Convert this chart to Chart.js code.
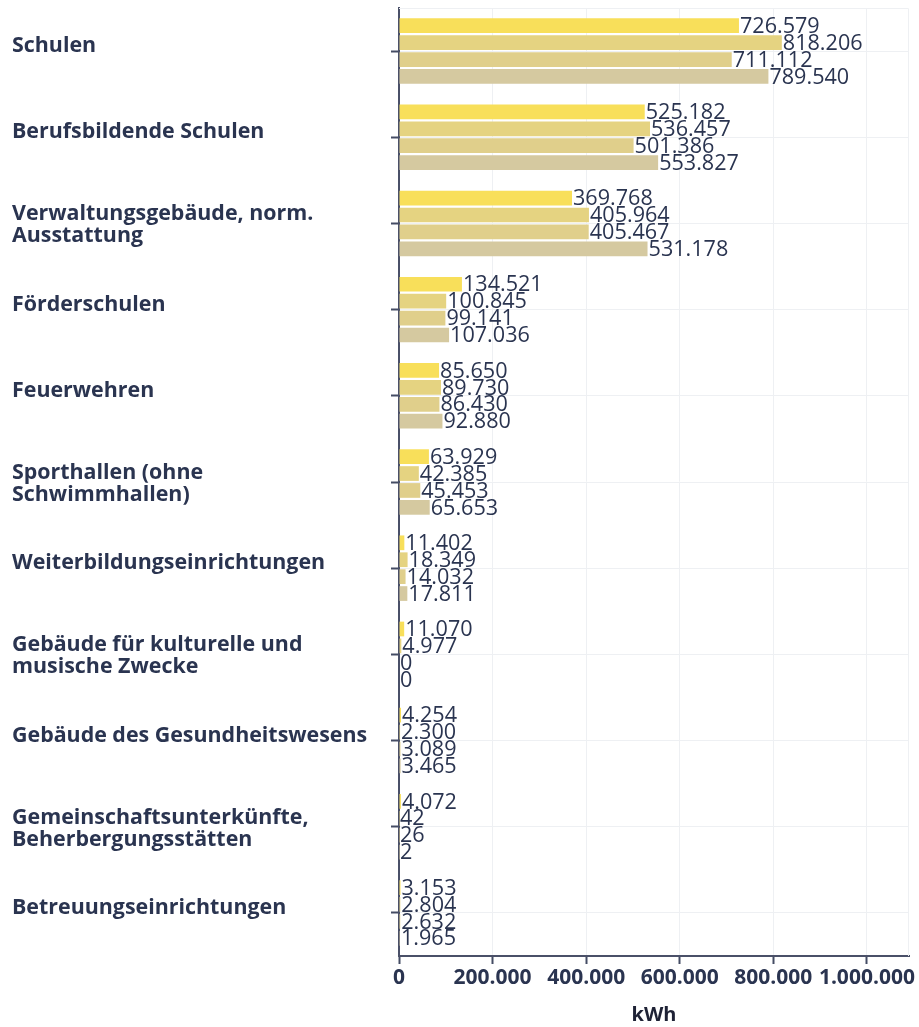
<!DOCTYPE html>
<html>
<head>
<meta charset="utf-8">
<script src="https://cdn.jsdelivr.net/npm/chart.js@4"></script>
<style>
  html, body { margin: 0; padding: 0; background: #fff; }
  #wrap { width: 919px; height: 1027px; }
</style>
</head>
<body>
<div id="wrap"><canvas id="chart"></canvas></div>
<script>
// Energieverbrauch nach Gebäudeart (kWh)

const categories = [
    'Schulen',
    'Berufsbildende Schulen',
    ['Verwaltungsgebäude, norm.', 'Ausstattung'],
    'Förderschulen',
    'Feuerwehren',
    ['Sporthallen (ohne', 'Schwimmhallen)'],
    'Weiterbildungseinrichtungen',
    ['Gebäude für kulturelle und', 'musische Zwecke'],
    'Gebäude des Gesundheitswesens',
    ['Gemeinschaftsunterkünfte,', 'Beherbergungsstätten'],
    'Betreuungseinrichtungen'
];

const series1 = [726579, 525182, 369768, 134521, 85650, 63929, 11402, 11070, 4254, 4072, 3153];
const series2 = [818206, 536457, 405964, 100845, 89730, 42385, 18349, 4977, 2300, 42, 2804];
const series3 = [711112, 501386, 405467, 99141, 86430, 45453, 14032, 0, 3089, 26, 2632];
const series4 = [789540, 553827, 531178, 107036, 92880, 65653, 17811, 0, 3465, 2, 1965];

const seriesNames = ['Serie 1', 'Serie 2', 'Serie 3', 'Serie 4'];
const xTicks = [0, 200000, 400000, 600000, 800000, 1000000];

const TEXT_COLOR = '#2a3450';
const FONT = '"Open Sans", "Noto Sans", sans-serif';

function fmt(v) {
    return String(Math.round(v)).replace(/\B(?=(\d{3})+(?!\d))/g, '.');
}

// faint frame line on top and right of the plot area
const frame = {
    id: 'frame',
    beforeDatasetsDraw(chart) {
        const { ctx, chartArea } = chart;
        ctx.save();
        ctx.strokeStyle = '#eef0f3';
        ctx.lineWidth = 1;
        ctx.beginPath();
        ctx.moveTo(chartArea.left, chartArea.top + 0.5);
        ctx.lineTo(chartArea.right - 0.5, chartArea.top + 0.5);
        ctx.lineTo(chartArea.right - 0.5, chartArea.bottom);
        ctx.stroke();
        ctx.restore();
    }
};

// value labels at the end of each bar
const barLabels = {
    id: 'barLabels',
    afterDatasetsDraw(chart) {
        const ctx = chart.ctx;
        ctx.save();
        ctx.font = '21.6px ' + FONT;
        ctx.fillStyle = TEXT_COLOR;
        ctx.textAlign = 'left';
        ctx.textBaseline = 'middle';
        chart.data.datasets.forEach((ds, i) => {
            const meta = chart.getDatasetMeta(i);
            meta.data.forEach((bar, j) => {
                ctx.fillText(fmt(ds.data[j]), bar.x + 1, bar.y + 1);
            });
        });
        ctx.restore();
    }
};

// category labels, left aligned (single lines sit on the tick, two lines are centred)
const categoryLabels = {
    id: 'categoryLabels',
    afterDraw(chart) {
        const ctx = chart.ctx;
        const yScale = chart.scales.y;
        ctx.save();
        ctx.font = 'bold 21.4px ' + FONT;
        ctx.fillStyle = TEXT_COLOR;
        ctx.textAlign = 'left';
        ctx.textBaseline = 'alphabetic';
        categories.forEach((label, i) => {
            const y = yScale.getPixelForTick(i);
            if (Array.isArray(label)) {
                ctx.fillText(label[0], 12, y - 3);
                ctx.fillText(label[1], 12, y + 19);
            } else {
                ctx.fillText(label, 12, y + 1);
            }
        });
        ctx.restore();
    }
};

const colors = ['#f8df5a', '#e5d381', '#e0cf8b', '#d5c9a0'];
const allSeries = [series1, series2, series3, series4];

new Chart(document.getElementById('chart'), {
    type: 'bar',
    data: {
        labels: categories,
        datasets: allSeries.map((d, i) => ({
            label: seriesNames[i],
            data: d,
            backgroundColor: colors[i],
            borderWidth: 0,
            categoryPercentage: 0.785,
            barPercentage: 0.87
        }))
    },
    options: {
        indexAxis: 'y',
        responsive: true,
        maintainAspectRatio: false,
        animation: false,
        layout: { padding: { left: 12, right: 10, top: 8, bottom: 0 } },
        plugins: {
            legend: { display: false },
            tooltip: { enabled: false }
        },
        scales: {
            y: {
                afterFit: function(scale) { scale.width = 387; },
                grid: {
                    offset: false,
                    color: '#eef0f3',
                    tickColor: '#444c64',
                    tickLength: 8,
                    tickWidth: 2
                },
                border: { color: '#4a5068', width: 2 },
                ticks: { display: false }
            },
            x: {
                min: 0,
                max: 1090000,
                afterFit: function(scale) { scale.height = 71; },
                afterBuildTicks: function(scale) {
                    scale.ticks = xTicks.map(v => ({ value: v }));
                },
                grid: {
                    color: '#eef0f3',
                    tickColor: '#444c64',
                    tickLength: 8,
                    tickWidth: 2
                },
                border: { color: '#4a5068', width: 2 },
                ticks: {
                    color: TEXT_COLOR,
                    padding: 1,
                    autoSkip: false,
                    minRotation: 0,
                    maxRotation: 0,
                    font: { family: FONT, size: 21, weight: 'bold' },
                    callback: function(value) { return fmt(value); }
                },
                title: {
                    display: true,
                    text: 'kWh',
                    color: '#1e2235',
                    padding: { top: 10, bottom: 0 },
                    font: { family: FONT, size: 20, weight: 'bold' }
                }
            }
        }
    },
    plugins: [frame, barLabels, categoryLabels]
});
</script>
</body>
</html>
